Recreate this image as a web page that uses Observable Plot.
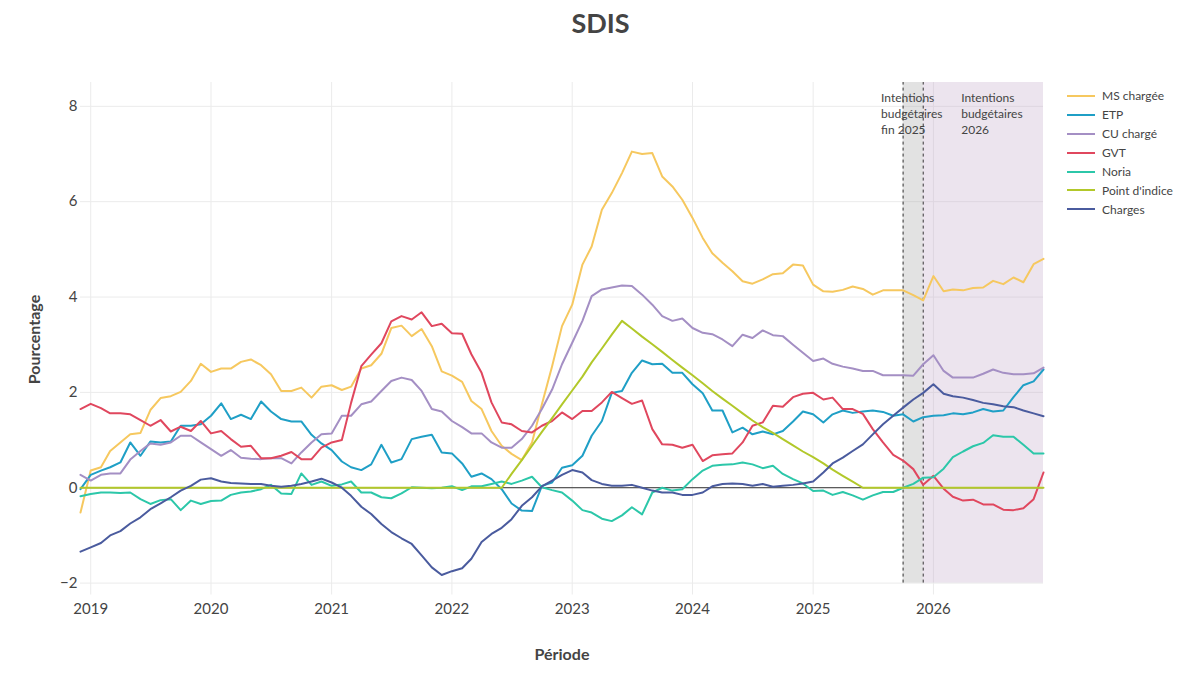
<!DOCTYPE html>
<html><head><meta charset="utf-8">
<script src="https://cdn.jsdelivr.net/npm/d3@7"></script>
<script src="https://cdn.jsdelivr.net/npm/@observablehq/plot@0.6"></script>
<style>
body{margin:0;background:#fff;font-family:Lato,"Open Sans",sans-serif;}
#wrap{position:relative;width:1189px;height:690px;overflow:hidden;}
#title{height:46px;line-height:46px;text-align:center;font-size:27px;font-weight:bold;color:#444;padding-left:12px;box-sizing:border-box;}
#legend{position:absolute;left:1067px;top:86.5px;font-size:12px;color:#444;}
.item{height:18.9px;display:flex;align-items:center;white-space:nowrap;}
.sw{width:28px;height:2px;margin-right:7px;}
.axt{position:absolute;font-size:16px;font-weight:bold;color:#444;white-space:nowrap;}
</style></head>
<body><div id="wrap"><div id="title">SDIS</div><div id="chart"></div><div id="legend"></div>
<div class="axt" id="xt">Période</div><div class="axt" id="yt">Pourcentage</div></div>
<script>
// Monthly series, Dec 2018 -> Dec 2026 (97 months)
const seriesNames = ["MS chargée","ETP","CU chargé","GVT","Noria","Point d'indice","Charges"];
const seriesColors = ["#f6c85f","#1f9fc6","#a48fc4","#e0475e","#2cc7a9","#b2c82a","#4a5b9e"];
const yearTicks = [2019,2020,2021,2022,2023,2024,2025,2026];
const yTicks = [-2,0,2,4,6,8];

const msCharge = [-0.52,0.36,0.43,0.77,0.95,1.12,1.15,1.63,1.88,1.92,2.01,2.24,2.6,2.43,2.5,2.5,2.64,2.69,2.57,2.38,2.03,2.03,2.1,1.89,2.12,2.15,2.05,2.12,2.5,2.57,2.81,3.35,3.4,3.18,3.33,2.97,2.44,2.35,2.22,1.82,1.65,1.19,0.88,0.71,0.58,0.95,1.75,2.55,3.39,3.84,4.68,5.06,5.83,6.18,6.6,7.05,7.0,7.02,6.53,6.32,6.04,5.66,5.24,4.92,4.72,4.54,4.33,4.28,4.37,4.48,4.5,4.68,4.66,4.26,4.12,4.11,4.15,4.22,4.17,4.05,4.14,4.14,4.14,4.04,3.93,4.44,4.12,4.16,4.14,4.19,4.2,4.34,4.27,4.41,4.31,4.69,4.8];
const etp = [-0.03,0.27,0.36,0.43,0.53,0.95,0.67,0.97,0.95,0.97,1.3,1.3,1.33,1.51,1.77,1.44,1.53,1.44,1.81,1.6,1.44,1.39,1.39,1.11,0.93,0.79,0.55,0.43,0.37,0.49,0.9,0.53,0.6,1.02,1.07,1.11,0.74,0.72,0.51,0.23,0.3,0.18,-0.03,-0.33,-0.48,-0.49,0.04,0.11,0.42,0.47,0.67,1.09,1.4,1.99,2.03,2.41,2.67,2.59,2.6,2.41,2.41,2.17,1.98,1.62,1.62,1.16,1.26,1.12,1.18,1.12,1.19,1.39,1.6,1.54,1.37,1.54,1.62,1.57,1.6,1.62,1.59,1.51,1.54,1.39,1.48,1.51,1.52,1.56,1.54,1.58,1.65,1.6,1.62,1.9,2.15,2.23,2.48];
const cuCharge = [0.27,0.15,0.27,0.3,0.3,0.59,0.77,0.93,0.9,0.95,1.09,1.09,0.95,0.81,0.67,0.79,0.63,0.61,0.6,0.62,0.62,0.51,0.74,0.95,1.12,1.14,1.51,1.51,1.75,1.81,2.03,2.24,2.31,2.26,2.03,1.65,1.6,1.4,1.27,1.14,1.14,0.95,0.84,0.84,1.02,1.3,1.65,2.06,2.59,3.04,3.5,4.02,4.16,4.2,4.24,4.23,4.05,3.84,3.6,3.5,3.55,3.35,3.25,3.22,3.11,2.97,3.21,3.14,3.3,3.2,3.18,3.0,2.83,2.66,2.71,2.6,2.54,2.5,2.45,2.45,2.36,2.36,2.36,2.35,2.59,2.78,2.45,2.31,2.31,2.31,2.39,2.48,2.41,2.38,2.38,2.4,2.52];
const gvt = [1.65,1.76,1.67,1.56,1.56,1.54,1.42,1.3,1.42,1.18,1.28,1.19,1.4,1.14,1.19,1.02,0.86,0.88,0.62,0.62,0.67,0.75,0.6,0.6,0.84,0.95,1.0,1.78,2.55,2.79,3.03,3.49,3.6,3.53,3.68,3.39,3.44,3.24,3.23,2.8,2.41,1.79,1.37,1.33,1.19,1.16,1.3,1.4,1.58,1.44,1.61,1.61,1.79,2.01,1.88,1.76,1.83,1.23,0.91,0.9,0.84,0.9,0.56,0.68,0.7,0.72,0.95,1.3,1.37,1.72,1.7,1.9,1.97,1.99,1.85,1.89,1.65,1.65,1.55,1.23,0.95,0.69,0.57,0.39,0.06,0.25,-0.02,-0.19,-0.27,-0.25,-0.35,-0.35,-0.46,-0.47,-0.43,-0.24,0.32];
const noria = [-0.18,-0.13,-0.1,-0.1,-0.11,-0.1,-0.24,-0.34,-0.26,-0.24,-0.47,-0.27,-0.34,-0.28,-0.27,-0.15,-0.1,-0.08,-0.03,0.06,-0.12,-0.13,0.3,0.06,0.13,0.04,0.07,0.13,-0.1,-0.1,-0.2,-0.22,-0.12,0.01,0.0,-0.01,0.0,0.03,-0.05,0.03,0.03,0.08,0.13,0.08,0.15,0.23,0.01,-0.05,-0.1,-0.27,-0.47,-0.52,-0.65,-0.7,-0.58,-0.41,-0.56,-0.1,0.0,-0.06,-0.03,0.18,0.36,0.46,0.48,0.49,0.53,0.49,0.41,0.46,0.29,0.18,0.09,-0.07,-0.06,-0.15,-0.09,-0.16,-0.25,-0.16,-0.09,-0.09,0.0,0.08,0.21,0.22,0.4,0.64,0.76,0.87,0.94,1.1,1.07,1.07,0.9,0.72,0.72];
const pointIndice = [0,0,0,0,0,0,0,0,0,0,0,0,0,0,0,0,0,0,0,0,0,0,0,0,0,0,0,0,0,0,0,0,0,0,0,0,0,0,0,0,0,0,0,0.29,0.58,0.88,1.17,1.46,1.75,2.04,2.33,2.63,2.92,3.21,3.5,3.34,3.17,3.01,2.85,2.68,2.52,2.36,2.19,2.03,1.87,1.72,1.56,1.41,1.27,1.15,1.02,0.89,0.76,0.64,0.51,0.38,0.25,0.13,0,0,0,0,0,0,0,0,0,0,0,0,0,0,0,0,0,0,0];
const charges = [-1.34,-1.25,-1.16,-1.0,-0.91,-0.75,-0.62,-0.45,-0.33,-0.2,-0.06,0.04,0.17,0.2,0.13,0.1,0.09,0.08,0.08,0.04,0.02,0.04,0.08,0.13,0.19,0.11,0.0,-0.17,-0.4,-0.55,-0.76,-0.93,-1.06,-1.18,-1.42,-1.67,-1.83,-1.75,-1.69,-1.49,-1.14,-0.97,-0.84,-0.66,-0.38,-0.2,0.03,0.15,0.27,0.37,0.32,0.16,0.08,0.04,0.04,0.06,0.0,-0.06,-0.1,-0.1,-0.15,-0.15,-0.1,0.03,0.08,0.09,0.08,0.04,0.08,0.02,0.04,0.06,0.09,0.13,0.32,0.51,0.63,0.77,0.91,1.12,1.33,1.51,1.68,1.85,1.99,2.17,1.97,1.92,1.89,1.84,1.78,1.75,1.71,1.69,1.62,1.56,1.5];

const seriesValues = [msCharge, etp, cuCharge, gvt, noria, pointIndice, charges];
const months = d3.utcMonth.range(new Date(Date.UTC(2018,11,1)), new Date(Date.UTC(2027,0,1)));
const data = seriesValues.flatMap((vals, k) => vals.map((v, i) => ({series: seriesNames[k], date: months[i], value: v})));

const shadeFin2025 = [{x1: new Date(Date.UTC(2025,9,1)), x2: new Date(Date.UTC(2025,11,1))}];
const shade2026 = [{x1: new Date(Date.UTC(2025,11,1)), x2: new Date(Date.UTC(2026,11,1))}];
const dashDates = [new Date(Date.UTC(2025,9,1)), new Date(Date.UTC(2025,11,1))];
const annotations = [
  {date: new Date(Date.UTC(2025,9,1)), text: "Intentions\nbudgétaires\nfin 2025", dx: -22},
  {date: new Date(Date.UTC(2025,11,1)), text: "Intentions\nbudgétaires\n2026", dx: 38}
];
const yearDates = yearTicks.map(y => new Date(Date.UTC(y,0,1)));

const chart = Plot.plot({
  width: 1189, height: 644,
  marginLeft: 80, marginRight: 146, marginTop: 36, marginBottom: 95.5,
  style: {fontFamily: "Lato, 'Open Sans', sans-serif", fontSize: "15px", color: "#444", background: "white"},
  x: {type: "utc", domain: [months[0], months[months.length-1]]},
  y: {domain: [-2.25, 8.5]},
  color: {domain: seriesNames, range: seriesColors},
  marks: [
    Plot.ruleX(yearDates, {stroke: "#ebebeb", strokeWidth: 1}),
    Plot.ruleY(yTicks, {stroke: "#ebebeb", strokeWidth: 1}),
    Plot.rect(shadeFin2025, {x1: "x1", x2: "x2", y1: -2, y2: 8.5, fill: "#a0a0a0", fillOpacity: 0.3}),
    Plot.rect(shade2026, {x1: "x1", x2: "x2", y1: -2, y2: 8.5, fill: "#c0a5c6", fillOpacity: 0.3}),
    Plot.ruleY([0], {stroke: "#333", strokeWidth: 1}),
    Plot.ruleX(dashDates, {y1: -2, y2: 8.5, stroke: "#333", strokeWidth: 1, strokeDasharray: "3,3"}),
    Plot.line(data, {x: "date", y: "value", stroke: "series", z: "series", strokeWidth: 2}),
    Plot.text(annotations, {x: "date", y: 8.5, text: "text", textAnchor: "start", lineAnchor: "top", lineHeight: 1.33, fontSize: 12, fill: "#444", dy: 8}),
    Plot.axisX({ticks: yearDates, tickFormat: d3.utcFormat("%Y"), tickSize: 0, tickPadding: 8, label: null, fontSize: 15}),
    Plot.axisY({ticks: yTicks, tickSize: 0, tickPadding: 3, label: null, fontSize: 15})
  ]
});
document.getElementById("chart").appendChild(chart);

// shift annotation texts horizontally by their dx
const texts = chart.querySelectorAll("g[aria-label='text'] text");
texts.forEach((t, i) => {
  const dx = annotations[i].dx;
  const tr = t.getAttribute("transform") || "";
  t.setAttribute("transform", tr + ` translate(${dx},0)`);
});

const legend = document.getElementById("legend");
seriesNames.forEach((n, k) => {
  const it = document.createElement("div"); it.className = "item";
  const sw = document.createElement("div"); sw.className = "sw"; sw.style.background = seriesColors[k];
  const tx = document.createElement("span"); tx.textContent = n;
  it.appendChild(sw); it.appendChild(tx); legend.appendChild(it);
});
const xt = document.getElementById("xt");
xt.style.left = (562 - xt.offsetWidth/2) + "px"; xt.style.top = (653 - xt.offsetHeight/2) + "px";
const yt = document.getElementById("yt");
yt.style.left = (33 - yt.offsetWidth/2) + "px"; yt.style.top = (339 - yt.offsetHeight/2) + "px";
yt.style.transform = "rotate(-90deg)";
</script></body></html>
